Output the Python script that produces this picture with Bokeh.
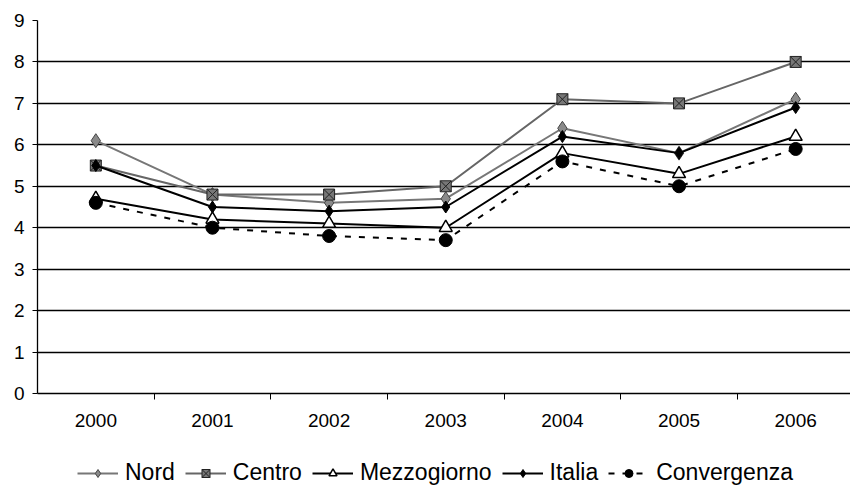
from bokeh.plotting import figure
from bokeh.models import Range1d, FixedTicker, Legend, LegendItem
from bokeh.layouts import column
from bokeh.embed import file_html
from bokeh.resources import INLINE

years = ["2000", "2001", "2002", "2003", "2004", "2005", "2006"]
nord = [6.1, 4.8, 4.6, 4.7, 6.4, 5.8, 7.1]
centro = [5.5, 4.8, 4.8, 5.0, 7.1, 7.0, 8.0]
mezzogiorno = [4.7, 4.2, 4.1, 4.0, 5.8, 5.3, 6.2]
italia = [5.5, 4.5, 4.4, 4.5, 6.2, 5.8, 6.9]
convergenza = [4.6, 4.0, 3.8, 3.7, 5.6, 5.0, 5.9]
y_ticks = [0, 1, 2, 3, 4, 5, 6, 7, 8, 9]

x = list(range(len(years)))
FONT = "Liberation Sans"

series = [
    ("Nord", nord, dict(line_color="#777777", line_width=2),
     dict(marker="diamond", size=14, fill_color="#8a8a8a", line_color="#444444")),
    ("Centro", centro, dict(line_color="#666666", line_width=2),
     dict(marker="square_x", size=11, fill_color="#777777", line_color="#222222")),
    ("Mezzogiorno", mezzogiorno, dict(line_color="black", line_width=2),
     dict(marker="triangle", size=13, fill_color="white", line_color="black", line_width=1.5)),
    ("Italia", italia, dict(line_color="black", line_width=2),
     dict(marker="diamond", size=12, fill_color="black", line_color="black")),
    ("Convergenza", convergenza, dict(line_color="black", line_width=2, line_dash="6 8"),
     dict(marker="circle", size=13, fill_color="black", line_color="black")),
]

# main chart
p = figure(width=850, height=437, output_backend="svg",
           toolbar_location=None, x_range=Range1d(-0.5, 6.47), y_range=Range1d(0, 9),
           min_border_left=37, min_border_top=20, min_border_right=0, min_border_bottom=44)
p.outline_line_color = None
p.xgrid.visible = False
p.ygrid.ticker = FixedTicker(ticks=y_ticks[1:-1])
p.ygrid.grid_line_color = "black"
p.ygrid.grid_line_width = 1.3

p.yaxis.ticker = FixedTicker(ticks=y_ticks)
p.yaxis.major_tick_out = 5
p.yaxis.major_tick_in = 0
p.yaxis.minor_tick_line_color = None
p.yaxis.major_label_standoff = 8
p.yaxis.axis_line_color = "black"
p.yaxis.axis_line_width = 1.3

p.xaxis.ticker = FixedTicker(ticks=x, minor_ticks=[i + 0.5 for i in x])
p.xaxis.major_label_overrides = {i: y for i, y in zip(x, years)}
p.xaxis.major_tick_out = 0
p.xaxis.major_tick_in = 0
p.xaxis.minor_tick_out = 6
p.xaxis.minor_tick_in = 0
p.xaxis.major_label_standoff = 14
p.xaxis.axis_line_width = 1.6

for ax in (p.xaxis, p.yaxis):
    ax.major_label_text_font = FONT
    ax.major_label_text_font_size = "19px"
    ax.major_label_text_color = "black"

for name, vals, lstyle, mstyle in series:
    p.line(x, vals, **lstyle)
    p.scatter(x, vals, **mstyle)

# legend strip (same series, drawn outside its visible range; only the legend shows)
q = figure(width=850, height=50, output_backend="svg", toolbar_location=None,
           x_axis_type=None, y_axis_type=None,
           x_range=Range1d(100, 101), y_range=Range1d(100, 101),
           min_border=0)
q.outline_line_color = None
q.xgrid.visible = False
q.ygrid.visible = False
items = []
for name, vals, lstyle, mstyle in series:
    rl = q.line(x, vals, **lstyle)
    rm = q.scatter(x, vals, **mstyle)
    items.append(LegendItem(label=name, renderers=[rl, rm]))

legend = Legend(items=items, orientation="horizontal", location=(40, 1),
                label_text_font=FONT, label_text_font_size="23px", label_text_color="black",
                glyph_width=41, glyph_height=20, label_standoff=7, spacing=10,
                padding=0, margin=0, border_line_color=None, background_fill_alpha=0)
q.add_layout(legend, "center")

open("out.html", "w").write(file_html(column(p, q, spacing=0), INLINE))
